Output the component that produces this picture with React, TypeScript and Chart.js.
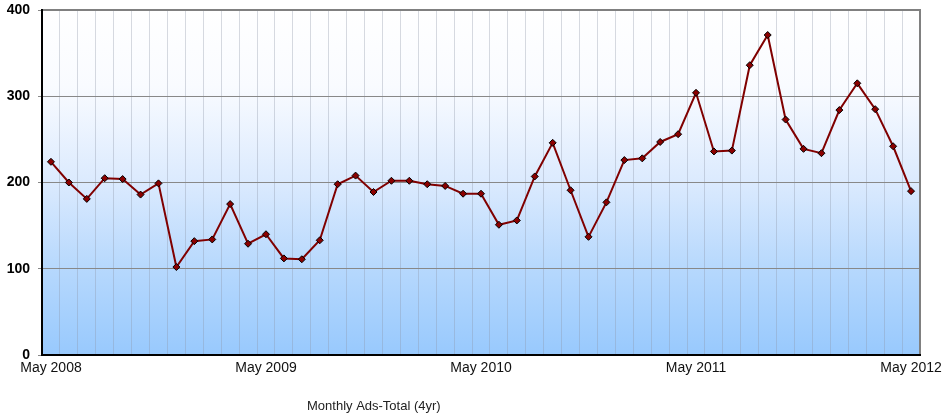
import React, { useEffect, useRef } from "react";
import { Chart, registerables } from "chart.js";

Chart.register(...registerables);

const months: string[] = [
  "May 2008", "Jun 2008", "Jul 2008", "Aug 2008", "Sep 2008", "Oct 2008", "Nov 2008", "Dec 2008",
  "Jan 2009", "Feb 2009", "Mar 2009", "Apr 2009", "May 2009", "Jun 2009", "Jul 2009", "Aug 2009",
  "Sep 2009", "Oct 2009", "Nov 2009", "Dec 2009", "Jan 2010", "Feb 2010", "Mar 2010", "Apr 2010",
  "May 2010", "Jun 2010", "Jul 2010", "Aug 2010", "Sep 2010", "Oct 2010", "Nov 2010", "Dec 2010",
  "Jan 2011", "Feb 2011", "Mar 2011", "Apr 2011", "May 2011", "Jun 2011", "Jul 2011", "Aug 2011",
  "Sep 2011", "Oct 2011", "Nov 2011", "Dec 2011", "Jan 2012", "Feb 2012", "Mar 2012", "Apr 2012",
  "May 2012",
];

const adsTotal: number[] = [
  224, 200, 181, 205, 204, 186, 199, 102, 132, 134, 175, 129, 140, 112, 111, 133,
  198, 208, 189, 202, 202, 198, 196, 187, 187, 151, 156, 207, 246, 191, 137, 177,
  226, 228, 247, 256, 304, 236, 237, 336, 371, 273, 239, 234, 284, 315, 285, 242,
  190,
];

const shownTickLabels: string[] = ["May 2008", "May 2009", "May 2010", "May 2011", "May 2012"];
const yTicks: number[] = [0, 100, 200, 300, 400];
const chartTitle = "Monthly Ads-Total (4yr)";

const backgroundPlugin = {
  id: "plotBackground",
  beforeDraw(chart: any) {
    const { ctx, chartArea } = chart;
    if (!chartArea) return;
    const { left, top, right, bottom } = chartArea;
    const g = ctx.createLinearGradient(0, top, 0, bottom);
    g.addColorStop(0, "#ffffff");
    g.addColorStop(0.22, "#f9fbff");
    g.addColorStop(0.5, "#dbeafe");
    g.addColorStop(0.75, "#b6d8fd");
    g.addColorStop(1, "#98c9fd");
    ctx.save();
    ctx.fillStyle = g;
    ctx.fillRect(left, top, right - left, bottom - top);
    ctx.restore();
  },
  afterDraw(chart: any) {
    const { ctx, chartArea } = chart;
    const { left, top, right, bottom } = chartArea;
    ctx.save();
    ctx.strokeStyle = "#808080";
    ctx.lineWidth = 2;
    ctx.beginPath();
    ctx.moveTo(left, top);
    ctx.lineTo(right, top);
    ctx.lineTo(right, bottom);
    ctx.stroke();
    ctx.strokeStyle = "#000000";
    ctx.beginPath();
    ctx.moveTo(left, top - 1);
    ctx.lineTo(left, bottom);
    ctx.lineTo(right + 1, bottom);
    ctx.stroke();
    ctx.fillStyle = "#222222";
    ctx.font = "13px 'Liberation Sans', Arial, sans-serif";
    ctx.textAlign = "left";
    ctx.textBaseline = "middle";
    ctx.fillText(chartTitle, 307, 406);
    ctx.restore();
  },
};

export default function App() {
  const canvasRef = useRef<HTMLCanvasElement | null>(null);

  useEffect(() => {
    if (!canvasRef.current) return;
    const chart = new Chart(canvasRef.current, {
      type: "line",
      data: {
        labels: months,
        datasets: [
          {
            label: chartTitle,
            data: adsTotal,
            borderColor: "#800000",
            borderWidth: 2,
            tension: 0,
            pointStyle: "rectRot",
            pointRadius: 3.5,
            pointBackgroundColor: "#8b0000",
            pointBorderColor: "#000000",
            pointBorderWidth: 1,
          },
        ],
      },
      options: {
        responsive: false,
        animation: false,
        layout: { padding: { top: 10, right: 23, left: 0, bottom: 0 } },
        plugins: {
          legend: { display: false },
          tooltip: { enabled: false },
          title: { display: false },
        },
        scales: {
          x: {
            type: "category",
            offset: true,
            border: { display: false },
            grid: {
              offset: true,
              color: "rgba(140,150,165,0.35)",
              lineWidth: 1,
              drawTicks: false,
            },
            ticks: {
              autoSkip: false,
              maxRotation: 0,
              padding: 5,
              color: "#111111",
              font: { family: "'Liberation Sans', Arial, sans-serif", size: 14 },
              callback: function (this: any, _v: any, index: number) {
                const l = months[index];
                return shownTickLabels.includes(l) ? l : "";
              },
            },
            afterFit: (scale: any) => {
              scale.height = 63;
              scale.paddingLeft = 0;
              scale.paddingRight = 0;
            },
          },
          y: {
            min: 0,
            max: 400,
            border: { display: false },
            afterBuildTicks: (scale: any) => {
              scale.ticks = yTicks.map((v) => ({ value: v }));
            },
            grid: {
              color: "#888888",
              lineWidth: 1,
              drawTicks: true,
              tickLength: 4,
            },
            ticks: {
              padding: 8,
              color: "#000000",
              font: { family: "'Liberation Sans', Arial, sans-serif", size: 14, weight: "bold" },
            },
            afterFit: (scale: any) => {
              scale.width = 42;
              scale.paddingTop = 0;
              scale.paddingBottom = 0;
            },
          },
        },
      },
      plugins: [backgroundPlugin],
    });
    return () => chart.destroy();
  }, []);

  return (
    <div style={{ position: "fixed", left: 0, top: 0, width: 943, height: 418, background: "#ffffff" }}>
      <canvas ref={canvasRef} width={943} height={418} style={{ display: "block", width: 943, height: 418 }} />
    </div>
  );
}
